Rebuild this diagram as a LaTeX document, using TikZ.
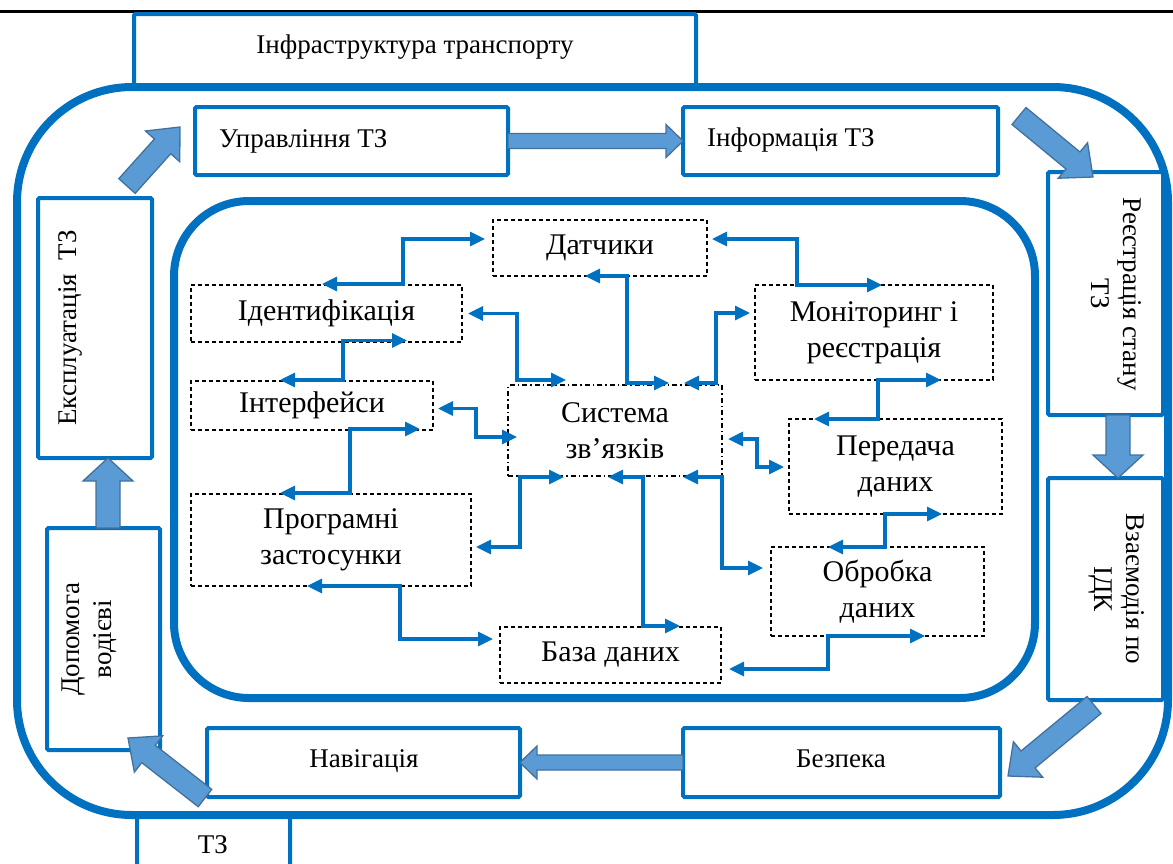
\documentclass[tikz,border=0pt]{standalone}
\usepackage{fontspec}
\setmainfont{Liberation Serif}
\usetikzlibrary{arrows.meta,calc}
\definecolor{mblue}{HTML}{0070C0}
\definecolor{afill}{HTML}{5B9BD5}
\definecolor{aline}{HTML}{41719C}
\newcommand{\bx}[7]{\node[#6, minimum width={#4-#2}, minimum height={#5-#3}] (#1) at ({(#2+#4)/2},{(#3+#5)/2}) {#7};}
\newcommand{\blockarrow}[5]{%
  \coordinate (bah) at ($(#2)!#5!(#1)$);
  \filldraw[barrow] ($(#1)!#3!90:(#2)$) -- ($(bah)!#3!90:(#2)$) -- ($(bah)!#4!90:(#2)$) -- (#2) -- ($(bah)!#4!-90:(#2)$) -- ($(bah)!#3!-90:(#2)$) -- ($(#1)!#3!-90:(#2)$) -- cycle;}
\begin{document}
\begin{tikzpicture}[x=1pt,y=-1pt,
  dbox/.style={draw=black, line width=1.1pt, dash pattern=on 4pt off 3pt, inner sep=0pt, outer sep=0pt, align=center, font=\fontsize{30}{36}\selectfont},
  sbox/.style={draw=mblue, line width=4pt, fill=white, inner sep=0pt, outer sep=0pt, rounded corners=1.5pt},
  otext/.style={inner sep=0pt, font=\fontsize{27}{32}\selectfont, align=center},
  conn/.style={draw=mblue, line width=3.2pt, arrows={Triangle[length=15pt,width=14pt]-Triangle[length=15pt,width=14pt]}},
  barrow/.style={fill=afill, draw=aline, line width=1.3pt, line join=miter},
  frame/.style={draw=mblue, line width=8pt}]
\useasboundingbox (0,0) rectangle (1173,863);
\clip (0,0) rectangle (1173,863);
\draw[line width=3pt] (0,11) -- (1173,11);
% boxes behind the frame
\bx{infra}{134}{14}{696}{87}{sbox}{}
\bx{tz}{137}{815}{290}{885}{sbox}{}
% frames
\draw[frame, rounded corners=115pt] (17,87) rectangle (1168,815);
\draw[frame, rounded corners=75pt] (174,201) rectangle (1035,698);
% outer boxes
\bx{upr}{195}{107}{508}{175}{sbox}{}
\bx{inf}{683}{107}{998}{175}{sbox}{}
\bx{reg}{1048}{172}{1163}{415}{sbox}{}
\bx{vzm}{1048}{478}{1163}{700}{sbox}{}
\bx{bez}{683}{728}{1000}{797}{sbox}{}
\bx{nav}{207}{728}{520}{797}{sbox}{}
\bx{dop}{47}{528}{160}{750}{sbox}{}
\bx{exp}{38}{198}{152}{458}{sbox}{}
% outer texts
\node[otext, anchor=base] (infrat) at (415,53) {Інфраструктура транспорту};
\node[otext, anchor=base west] (uprt) at (219,147) {Управління ТЗ};
\node[otext, anchor=base west] (inft) at (707,146) {Інформація ТЗ};
\node[otext, anchor=base] (bezt) at (841,767) {Безпека};
\node[otext, anchor=base] (navt) at (364,767) {Навігація};
\node[otext, anchor=base] (tzt) at (213,853) {ТЗ};
\node[otext, rotate=90] (expt) at (70,328) {Експлуатація~ ТЗ};
\node[otext, rotate=90] (dopt) at (89,639) {Допомога\\водієві};
\node[otext, rotate=-90] (regt) at (1116,294) {Реєстрація стану\\ТЗ};
\node[otext, rotate=-90] (vzmt) at (1117,589) {Взаємодія по\\ІДК};
% inner dashed boxes
\bx{dat}{493}{220}{707}{276}{dbox}{Датчики}
\bx{idn}{191}{285}{462}{342}{dbox}{Ідентифікація}
\bx{mon}{755}{285}{993}{380}{dbox}{Моніторинг і\\реєстрація}
\bx{intf}{191}{381}{433}{430}{dbox}{Інтерфейси}
\bx{sys}{508}{385}{722}{476}{dbox, dash pattern=on 5pt off 3pt on 1.5pt off 3pt}{Система\\зв’язків}
\bx{per}{789}{419}{1002}{514}{dbox}{Передача\\даних}
\bx{prog}{191}{494}{471}{586}{dbox}{Програмні\\застосунки}
\bx{obr}{771}{547}{984}{636}{dbox}{Обробка\\даних}
\bx{baz}{500}{627}{721}{683}{dbox}{База даних}
% connectors
\draw[conn] ($(idn.north)+(-4.5,-1)$) -- ++(81,0) |- ($(dat.west)+(-8,-9)$);
\draw[conn] ($(idn.east)+(6,0)$) -| ($(sys.north west)+(9,-5)$) -- ++(49,0);
\draw[conn] ($(idn.south)+(80.5,-1.5)$) -- ++(-64,0) |- ($(intf.north)+(-32,-1)$);
\draw[conn] ($(intf.east)+(5,3)$) -| ($(sys.west)+(-32,6.5)$) -- ($(sys.west)+(9,6.5)$);
\draw[conn] ($(intf.south)+(108,-1)$) -- ++(-70,0) |- ($(prog.north)+(-51,-1)$);
\draw[conn] ($(prog.east)+(5,7)$) -| ($(sys.south west)+(12,1)$) -- ++(44,0);
\draw[conn] ($(prog.south)+(-24,0)$) -- ++(93,0) |- ($(baz.west)+(-7,-16)$);
\draw[conn] ($(sys.south)+(-7,1)$) -- ++(35,0) |- ($(baz.north)+(69.5,-1)$);
\draw[conn] ($(sys.south)+(68,1)$) -- ++(39,0) |- ($(obr.west)+(-8,-23.5)$);
\draw[conn] ($(sys.east)+(6,8.5)$) -- ++(29,0) |- ($(per.west)+(-5,0.5)$);
\draw[conn] ($(dat.south)+(-15,0)$) -- ++(42,0) |- ($(sys.north)+(54,-2)$);
\draw[conn] ($(sys.north)+(69,-2)$) -- ++(32,0) |- ($(mon.west)+(-5,-19.5)$);
\draw[conn] ($(dat.east)+(5,-9)$) -| ($(mon.north)+(-77,0)$) -- ($(mon.north)+(8,0)$);
\draw[conn] ($(mon.south)+(67,0)$) -- ++(-63,0) |- ($(per.north)+(-81.5,0)$);
\draw[conn] ($(per.south)+(46.5,0)$) -- ++(-57,0) |- ($(obr.north)+(-49.5,0)$);
\draw[conn] ($(obr.south)+(47.5,0)$) -- ++(-97,0) |- ($(baz.east)+(8,14)$);
% block arrows
\coordinate (a1s) at ($(exp.north east)+(-25,-12)$);
\coordinate (a1e) at ($(upr.west)+(-15,-14)$);
\coordinate (a2s) at (upr.east);
\coordinate (a2e) at (inf.west);
\coordinate (a3s) at ($(inf.north east)+(21,9)$);
\coordinate (a3e) at ($(reg.north west)+(45,5)$);
\coordinate (a4s) at ($(reg.south)+(12.5,0)$);
\coordinate (a4e) at ($(vzm.north)+(12.5,0)$);
\coordinate (a5s) at ($(vzm.south)+(-11.5,5)$);
\coordinate (a5e) at ($(bez.east)+(8,13.5)$);
\coordinate (a6s) at (bez.west);
\coordinate (a6e) at (nav.east);
\coordinate (a7s) at ($(nav.south west)+(-2,1)$);
\coordinate (a7e) at ($(dop.south east)+(-32,-12)$);
\coordinate (a8s) at ($(dop.north)+(4.5,0)$);
\coordinate (a8e) at ($(exp.south)+(13,0)$);
\blockarrow{a1s}{a1e}{11pt}{23pt}{26pt}
\blockarrow{a2s}{a2e}{7.5pt}{16.5pt}{17pt}
\blockarrow{a3s}{a3e}{11pt}{23pt}{26pt}
\blockarrow{a4s}{a4e}{12pt}{25pt}{23pt}
\blockarrow{a5s}{a5e}{11pt}{23pt}{26pt}
\blockarrow{a6s}{a6e}{7.5pt}{16.5pt}{17pt}
\blockarrow{a7s}{a7e}{11pt}{23pt}{26pt}
\blockarrow{a8s}{a8e}{12pt}{25pt}{23pt}
\end{tikzpicture}
\end{document}
